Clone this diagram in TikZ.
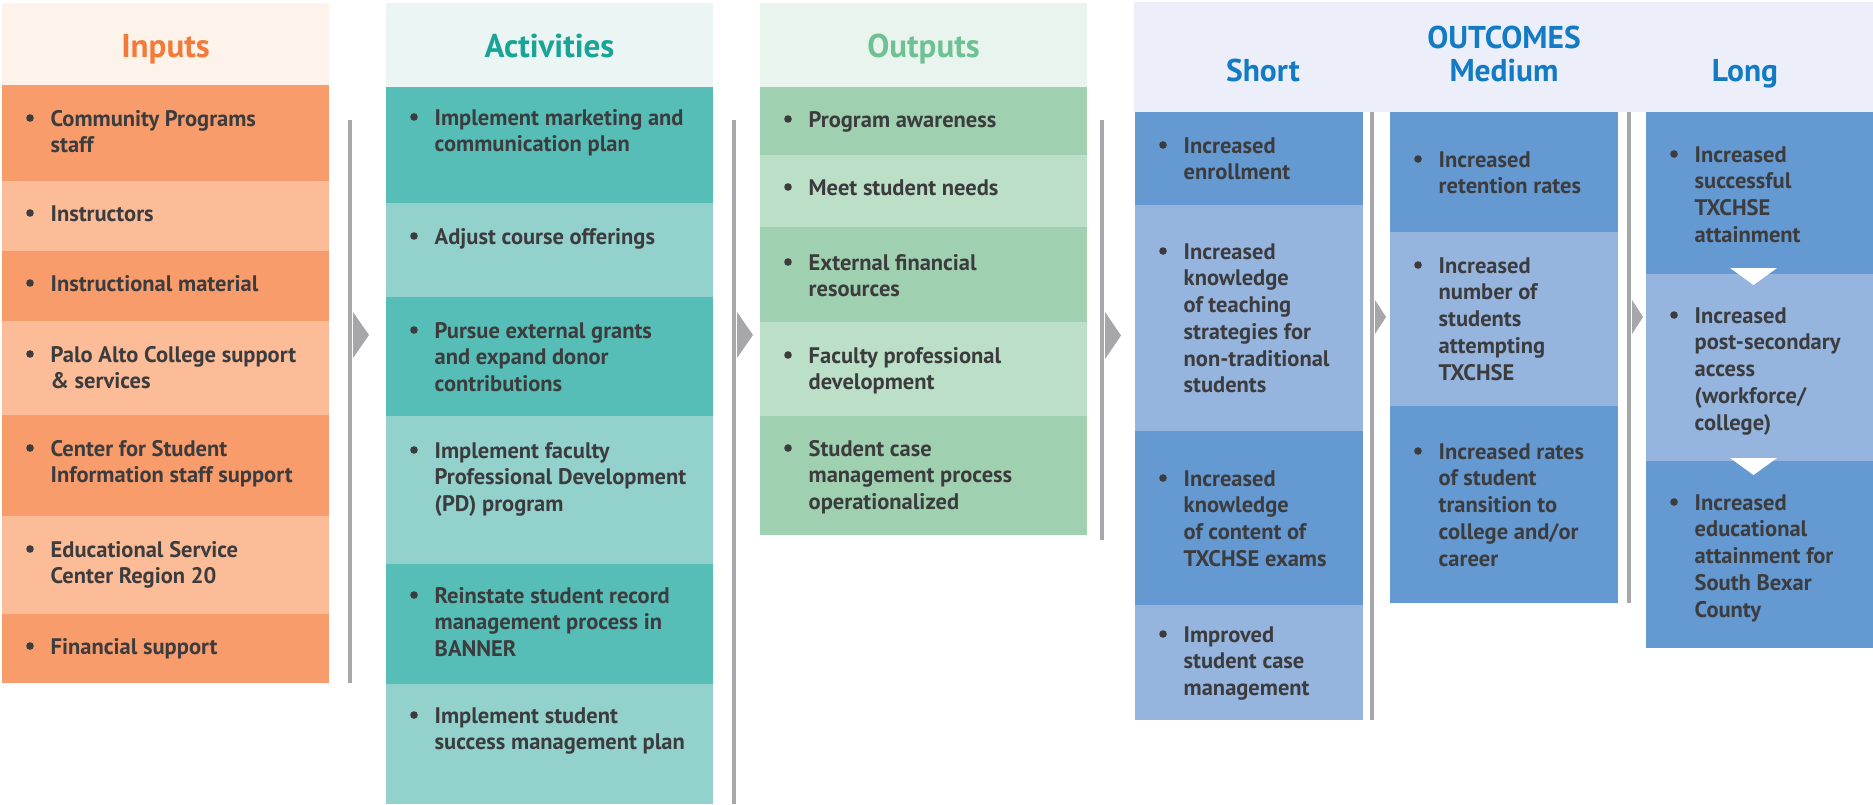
\documentclass[tikz,border=0pt]{standalone}
\usepackage{fontspec}
\setmainfont{PT Sans}
\definecolor{txt}{HTML}{3C3C3E}
\definecolor{sepgray}{HTML}{A7A7AB}
\definecolor{inHead}{HTML}{FEF3EA}
\definecolor{inTitle}{HTML}{F37B3A}
\definecolor{inDark}{HTML}{F89C6B}
\definecolor{inLight}{HTML}{FBBC97}
\definecolor{acHead}{HTML}{EBF5F4}
\definecolor{acTitle}{HTML}{19A497}
\definecolor{acDark}{HTML}{56BEB6}
\definecolor{acLight}{HTML}{93D1CD}
\definecolor{ouHead}{HTML}{EAF4EE}
\definecolor{ouTitle}{HTML}{6DC192}
\definecolor{ouDark}{HTML}{9FD0AF}
\definecolor{ouLight}{HTML}{BCDFC7}
\definecolor{ocHead}{HTML}{ECEFF9}
\definecolor{ocTitle}{HTML}{127BC4}
\definecolor{ocDark}{HTML}{6599D1}
\definecolor{ocLight}{HTML}{95B5DF}
\tikzset{
  itemtext/.style={anchor=north west, inner sep=0pt, align=left, text=txt,
    font=\fontsize{22.5}{26.7}\selectfont\bfseries},
  title/.style={anchor=base, inner sep=0pt, font=\fontsize{33}{38}\selectfont\bfseries},
  octitle/.style={anchor=base, inner sep=0pt, text=ocTitle, font=\fontsize{31.5}{36}\selectfont\bfseries},
  sepline/.style={fill=sepgray},
  sepArrow/.style={fill=sepgray},
}
\newcommand\lmitem[4]{%
  \fill[txt] (#2+28,#3-8) circle (3.8);
  \node[itemtext] (#1) at (#2+48.5,#3-21) {\rule{0pt}{21pt}#4};
}
\begin{document}
\begin{tikzpicture}[x=1pt,y=-1pt]
\fill[white] (0,0) rectangle (1873,804);
\useasboundingbox (0,0) rectangle (1873,804);

% ---------- Inputs ----------
\fill[inHead] (2,3) rectangle (329,85);
\fill[inDark] (2,85) rectangle (329,181);
\fill[inLight] (2,181) rectangle (329,251);
\fill[inDark] (2,251) rectangle (329,321);
\fill[inLight] (2,321) rectangle (329,415);
\fill[inDark] (2,415) rectangle (329,516);
\fill[inLight] (2,516) rectangle (329,614);
\fill[inDark] (2,614) rectangle (329,683);
\node[title,text=inTitle] (tIn) at (165.5,57) {Inputs};
\lmitem{in1}{2}{126}{Community Programs\\staff}
\lmitem{in2}{2}{221}{Instructors}
\lmitem{in3}{2}{291}{Instructional material}
\lmitem{in4}{2}{362}{Palo Alto College support\\\& services}
\lmitem{in5}{2}{456}{Center for Student\\Information staff support}
\lmitem{in6}{2}{557}{Educational Service\\Center Region 20}
\lmitem{in7}{2}{654}{Financial support}

% ---------- Activities ----------
\fill[acHead] (386,3) rectangle (713,87);
\fill[acDark] (386,87) rectangle (713,203);
\fill[acLight] (386,203) rectangle (713,297);
\fill[acDark] (386,297) rectangle (713,416);
\fill[acLight] (386,416) rectangle (713,564);
\fill[acDark] (386,564) rectangle (713,684);
\fill[acLight] (386,684) rectangle (713,804);
\node[title,text=acTitle] (tAc) at (549.5,57) {Activities};
\lmitem{ac1}{386}{125}{Implement marketing and\\communication plan}
\lmitem{ac2}{386}{244}{Adjust course offerings}
\lmitem{ac3}{386}{338}{Pursue external grants\\and expand donor\\contributions}
\lmitem{ac4}{386}{458}{Implement faculty\\Professional Development\\(PD) program}
\lmitem{ac5}{386}{603}{Reinstate student record\\management process in\\BANNER}
\lmitem{ac6}{386}{723}{Implement student\\success management plan}

% ---------- Outputs ----------
\fill[ouHead] (760,3) rectangle (1087,87);
\fill[ouDark] (760,87) rectangle (1087,155);
\fill[ouLight] (760,155) rectangle (1087,227);
\fill[ouDark] (760,227) rectangle (1087,322);
\fill[ouLight] (760,322) rectangle (1087,416);
\fill[ouDark] (760,416) rectangle (1087,535);
\node[title,text=ouTitle] (tOu) at (923.5,57) {Outputs};
\lmitem{ou1}{760}{127}{Program awareness}
\lmitem{ou2}{760}{195}{Meet student needs}
\lmitem{ou3}{760}{270}{External financial\\resources}
\lmitem{ou4}{760}{363}{Faculty professional\\development}
\lmitem{ou5}{760}{456}{Student case\\management process\\operationalized}

% ---------- Outcomes ----------
\fill[ocHead] (1134,2) rectangle (1873,112);
\node[octitle] (tOC) at (1504,48) {OUTCOMES};
\node[octitle] (tSh) at (1263,81) {Short};
\node[octitle] (tMe) at (1504,81) {Medium};
\node[octitle] (tLo) at (1745,81) {Long};

% Short
\fill[ocDark] (1135,112) rectangle (1363,205);
\fill[ocLight] (1135,205) rectangle (1363,431);
\fill[ocDark] (1135,431) rectangle (1363,605);
\fill[ocLight] (1135,605) rectangle (1363,720);
\lmitem{sh1}{1135}{153}{Increased\\enrollment}
\lmitem{sh2}{1135}{259}{Increased\\knowledge\\of teaching\\strategies for\\non-traditional\\students}
\lmitem{sh3}{1135}{486}{Increased\\knowledge\\of content of\\TXCHSE exams}
\lmitem{sh4}{1135}{642}{Improved\\student case\\management}

% Medium
\fill[ocDark] (1390,112) rectangle (1618,232);
\fill[ocLight] (1390,232) rectangle (1618,406);
\fill[ocDark] (1390,406) rectangle (1618,603);
\lmitem{me1}{1390}{167}{Increased\\retention rates}
\lmitem{me2}{1390}{273}{Increased\\number of\\students\\attempting\\TXCHSE}
\lmitem{me3}{1390}{459}{Increased rates\\of student\\transition to\\college and/or\\career}

% Long
\fill[ocDark] (1646,112) rectangle (1873,274);
\fill[ocLight] (1646,274) rectangle (1873,461);
\fill[ocDark] (1646,461) rectangle (1873,648);
\fill[white] (1730,268) -- (1777,268) -- (1753.5,285) -- cycle;
\fill[white] (1730,458) -- (1777,458) -- (1753.5,475) -- cycle;
\lmitem{lo1}{1646}{162}{Increased\\successful\\TXCHSE\\attainment}
\lmitem{lo2}{1646}{323}{Increased\\post-secondary\\access\\(workforce/\\college)}
\lmitem{lo3}{1646}{510}{Increased\\educational\\attainment for\\South Bexar\\County}

% ---------- Separators with arrows ----------
\fill[sepline] (348,120) rectangle (352,683);
\fill[sepArrow] (353,312) -- (369,335) -- (353,358) -- cycle;
\fill[sepline] (732,120) rectangle (736,804);
\fill[sepArrow] (737,312) -- (753,335) -- (737,358) -- cycle;
\fill[sepline] (1100,120) rectangle (1104,540);
\fill[sepArrow] (1105,312) -- (1121,335.5) -- (1105,359) -- cycle;
\fill[sepline] (1370,112) rectangle (1374,720);
\fill[sepArrow] (1375,300) -- (1386,317) -- (1375,334) -- cycle;
\fill[sepline] (1627,112) rectangle (1631,603);
\fill[sepArrow] (1632,300) -- (1643,317) -- (1632,334) -- cycle;
\end{tikzpicture}
\end{document}
